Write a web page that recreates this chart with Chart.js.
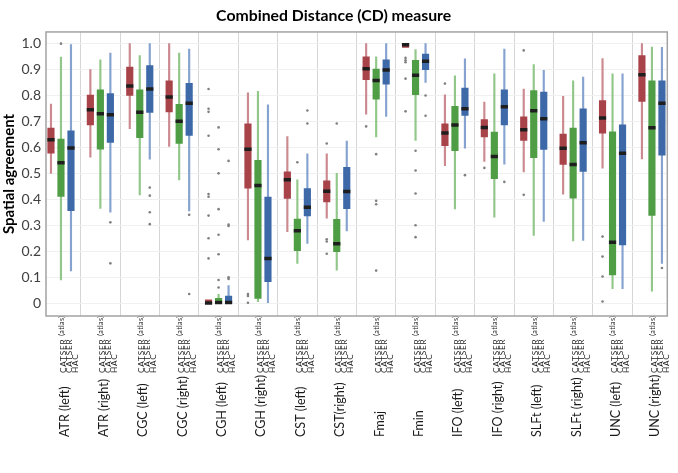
<!DOCTYPE html>
<html>
<head>
<meta charset="utf-8">
<script src="https://cdn.jsdelivr.net/npm/chart.js@4/dist/chart.umd.min.js"></script>
<style>
  html, body { margin: 0; padding: 0; background: #fff; }
  #wrap { width: 678px; height: 473px; }
</style>
</head>
<body>
<div id="wrap"><canvas id="cdChart"></canvas></div>
<script>
// Groups (tracts) and the three methods in each group
const groups = ['ATR (left)', 'ATR (right)', 'CGC (left)', 'CGC (right)', 'CGH (left)', 'CGH (right)',
  'CST (left)', 'CST(right)', 'Fmaj', 'Fmin', 'IFO (left)', 'IFO (right)', 'SLFt (left)', 'SLFt (right)',
  'UNC (left)', 'UNC (right)'];
const methods = ['CATSER (atlas)', 'CATSER', 'HAC'];

// CATSER (atlas) - red
const atlasLow  = [0.50, 0.562, 0.672, 0.604, null, 0.243, 0.275, 0.327, 0.728, null, 0.53, 0.546, 0.505, 0.42, 0.52, 0.556];
const atlasQ1   = [0.578, 0.687, 0.800, 0.737, 0.0, 0.443, 0.403, 0.39, 0.861, 0.985, 0.607, 0.64, 0.627, 0.534, 0.655, 0.777];
const atlasMed  = [0.629, 0.745, 0.837, 0.794, 0.0, 0.593, 0.475, 0.431, 0.903, 0.996, 0.655, 0.677, 0.668, 0.597, 0.713, 0.88];
const atlasQ3   = [0.674, 0.802, 0.910, 0.857, 0.012, 0.691, 0.506, 0.471, 0.949, 1.0, 0.691, 0.707, 0.718, 0.651, 0.78, 0.954];
const atlasHigh = [0.767, 0.90, 1.0, 1.0, null, 0.81, 0.642, 0.575, 1.0, null, 0.803, 0.775, 0.825, 0.797, 0.942, 1.0];
const atlasOut  = [[], [], [], [], [0.825, 0.749, 0.737, 0.645, 0.42, 0.41, 0.337, 0.25, 0.172], [0.035, 0.027, 0.001],
  [], [0.615, 0.246, 0.237, 0.19], [0.681], [0.945, 0.936, 0.928, 0.865, 0.739], [0.846], [0.521], [0.974, 0.417],
  [], [0.256, 0.179, 0.102, 0.006], []];

// CATSER - green
const catserLow  = [0.089, 0.365, 0.417, 0.475, 0.0, 0.005, 0.153, 0.127, 0.640, 0.627, 0.363, 0.331, 0.261, 0.239, 0.055, 0.046];
const catserQ1   = [0.411, 0.593, 0.637, 0.615, 0.0, 0.018, 0.202, 0.198, 0.786, 0.803, 0.587, 0.479, 0.56, 0.404, 0.108, 0.338];
const catserMed  = [0.541, 0.730, 0.735, 0.701, 0.002, 0.453, 0.279, 0.229, 0.858, 0.878, 0.686, 0.565, 0.741, 0.534, 0.234, 0.676];
const catserQ3   = [0.632, 0.822, 0.822, 0.766, 0.018, 0.55, 0.324, 0.323, 0.902, 0.936, 0.758, 0.659, 0.819, 0.674, 0.66, 0.857];
const catserHigh = [0.948, 0.938, 0.954, 0.964, 0.034, 0.816, 0.475, 0.50, 0.949, 0.977, 0.876, 0.884, 0.919, 0.857, 0.884, 0.987];
const catserOut  = [[1.0], [], [], [], [0.677, 0.593, 0.50, 0.362, 0.263, 0.188, 0.089, 0.06], [], [0.543], [0.692],
  [0.574, 0.394, 0.381, 0.125], [0.587, 0.511, 0.422, 0.30, 0.254], [], [], [], [], [], []];

// HAC - blue
const hacLow  = [0.124, 0.350, 0.555, 0.355, 0.0, 0.001, 0.230, 0.278, 0.719, 0.85, 0.597, 0.535, 0.315, 0.241, 0.055, 0.153];
const hacQ1   = [0.356, 0.619, 0.735, 0.646, 0.0, 0.082, 0.336, 0.364, 0.844, 0.90, 0.723, 0.687, 0.592, 0.507, 0.224, 0.57];
const hacMed  = [0.598, 0.726, 0.825, 0.770, 0.002, 0.172, 0.369, 0.43, 0.898, 0.932, 0.749, 0.757, 0.71, 0.618, 0.577, 0.77];
const hacQ3   = [0.664, 0.807, 0.915, 0.847, 0.027, 0.408, 0.441, 0.523, 0.938, 0.96, 0.829, 0.822, 0.813, 0.749, 0.687, 0.857];
const hacHigh = [0.996, 0.964, 1.0, 0.979, 0.067, 0.764, 0.575, 0.624, 1.0, 1.0, 0.941, 0.979, 0.897, 0.871, 0.884, 0.986];
const hacOut  = [[], [0.311, 0.153], [0.445, 0.414, 0.350, 0.304], [0.340, 0.035], [0.548, 0.303, 0.297, 0.099, 0.093],
  [], [0.742, 0.692], [], [], [0.80, 0.722], [0.493], [0.467], [], [], [], [0.135]];

const series = [
  { low: atlasLow, q1: atlasQ1, med: atlasMed, q3: atlasQ3, high: atlasHigh, out: atlasOut, box: '#a8434a', whisker: '#cc8a90' },
  { low: catserLow, q1: catserQ1, med: catserMed, q3: catserQ3, high: catserHigh, out: catserOut, box: '#4f9e46', whisker: '#92c78a' },
  { low: hacLow, q1: hacQ1, med: hacMed, q3: hacQ3, high: hacHigh, out: hacOut, box: '#3e69a9', whisker: '#86a3cf' }
];

// distance between neighbouring boxes inside a group, in group units
const methodShift = 0.254;
const fontFamily = 'Lato, "Open Sans", sans-serif';

const datasets = [];
series.forEach((s, k) => {
  const shift = (k - 1) * methodShift;
  const whiskers = [], boxes = [], medians = [], outliers = [];
  groups.forEach((g, i) => {
    const xPos = i + shift;
    if (s.low[i] !== null) whiskers.push({ x: xPos, y: [s.low[i], s.high[i]] });
    boxes.push({ x: xPos, y: [s.q1[i], s.q3[i]] });
    medians.push({ x: xPos, y: s.med[i] });
    s.out[i].forEach(v => outliers.push({ x: xPos, y: v }));
  });
  datasets.push({
    type: 'bar', label: methods[k] + ' whisker', data: whiskers, grouped: false,
    barThickness: 1.5, backgroundColor: s.whisker, borderWidth: 0, order: 3
  });
  datasets.push({
    type: 'bar', label: methods[k], data: boxes, grouped: false,
    barThickness: 6.5, backgroundColor: s.box, borderWidth: 0, order: 2
  });
  datasets.push({
    type: 'scatter', label: methods[k] + ' median', data: medians,
    pointStyle: 'line', pointRadius: 3.6, borderColor: '#1e1e1e', borderWidth: 3.5, order: 0
  });
  datasets.push({
    type: 'scatter', label: methods[k] + ' outliers', data: outliers,
    pointStyle: 'circle', pointRadius: 1.3, backgroundColor: '#808080', borderWidth: 0, order: 1
  });
});

// Rotated group and method labels under the plot
const groupLabels = {
  id: 'groupLabels',
  afterDraw(chart) {
    const { ctx, chartArea, scales: { x } } = chart;
    ctx.save();
    ctx.fillStyle = '#1a1a1a';
    ctx.textAlign = 'left';
    ctx.textBaseline = 'middle';
    groups.forEach((name, i) => {
      const px = x.getPixelForValue(i);
      methods.forEach((m, k) => {
        const parts = m.split(' (');
        ctx.save();
        ctx.translate(px + 2 + k * 6, chartArea.bottom + 57);
        ctx.rotate(-Math.PI / 2);
        ctx.letterSpacing = '0.8px';
        ctx.font = '8.2px ' + fontFamily;
        ctx.fillText(parts[0], 0, 0);
        if (parts[1]) {
          const w = ctx.measureText(parts[0] + ' ').width;
          ctx.letterSpacing = '0.3px';
          ctx.font = '7.2px ' + fontFamily;
          ctx.fillText('(' + parts[1], w, -1.5);
        }
        ctx.restore();
      });
      ctx.save();
      ctx.translate(px + 3.5, chartArea.bottom + 121);
      ctx.rotate(-Math.PI / 2);
      ctx.font = '12.5px ' + fontFamily;
      ctx.fillText(name, 0, 0);
      ctx.restore();
    });
    ctx.restore();
  }
};

// Grey frame round the plot area
const plotFrame = {
  id: 'plotFrame',
  afterDraw(chart) {
    const { ctx, chartArea } = chart;
    ctx.save();
    ctx.strokeStyle = '#a3a3a3';
    ctx.lineWidth = 1.5;
    ctx.strokeRect(chartArea.left, chartArea.top, chartArea.right - chartArea.left, chartArea.bottom - chartArea.top);
    ctx.restore();
  }
};

new Chart(document.getElementById('cdChart'), {
  type: 'bar',
  data: { datasets: datasets },
  plugins: [groupLabels, plotFrame],
  options: {
    responsive: true,
    maintainAspectRatio: false,
    animation: false,
    layout: { padding: { left: 0, right: 10.7, top: 0, bottom: 0 } },
    plugins: {
      legend: { display: false },
      tooltip: { enabled: false },
      title: {
        display: true,
        text: 'Combined Distance (CD) measure',
        color: '#000',
        font: { family: fontFamily, size: 15.8, weight: 'bold' },
        padding: { top: 6, bottom: 7 }
      }
    },
    scales: {
      x: {
        type: 'linear',
        min: -0.38,
        max: 15.39,
        offset: false,
        afterBuildTicks: (s) => { s.ticks = groups.slice(1).map((g, i) => ({ value: i + 0.5 })); },
        afterFit: (s) => { s.height = 157; },
        ticks: { display: false },
        grid: { offset: false, color: '#d6d6d6', lineWidth: 1, drawTicks: false },
        border: { display: false }
      },
      y: {
        min: -0.05,
        max: 1.045,
        stacked: false,
        afterFit: (s) => { s.width = 46; },
        ticks: {
          stepSize: 0.1,
          includeBounds: false,
          padding: 5,
          color: '#404040',
          font: { family: fontFamily, size: 14 }
        },
        grid: { color: '#f0f0f0', lineWidth: 1, drawTicks: false },
        border: { display: false },
        title: {
          display: true,
          text: 'Spatial agreement',
          color: '#000',
          font: { family: fontFamily, size: 15, weight: 'bold' },
          padding: { top: 0, bottom: 0 }
        }
      }
    }
  }
});
</script>
</body>
</html>
